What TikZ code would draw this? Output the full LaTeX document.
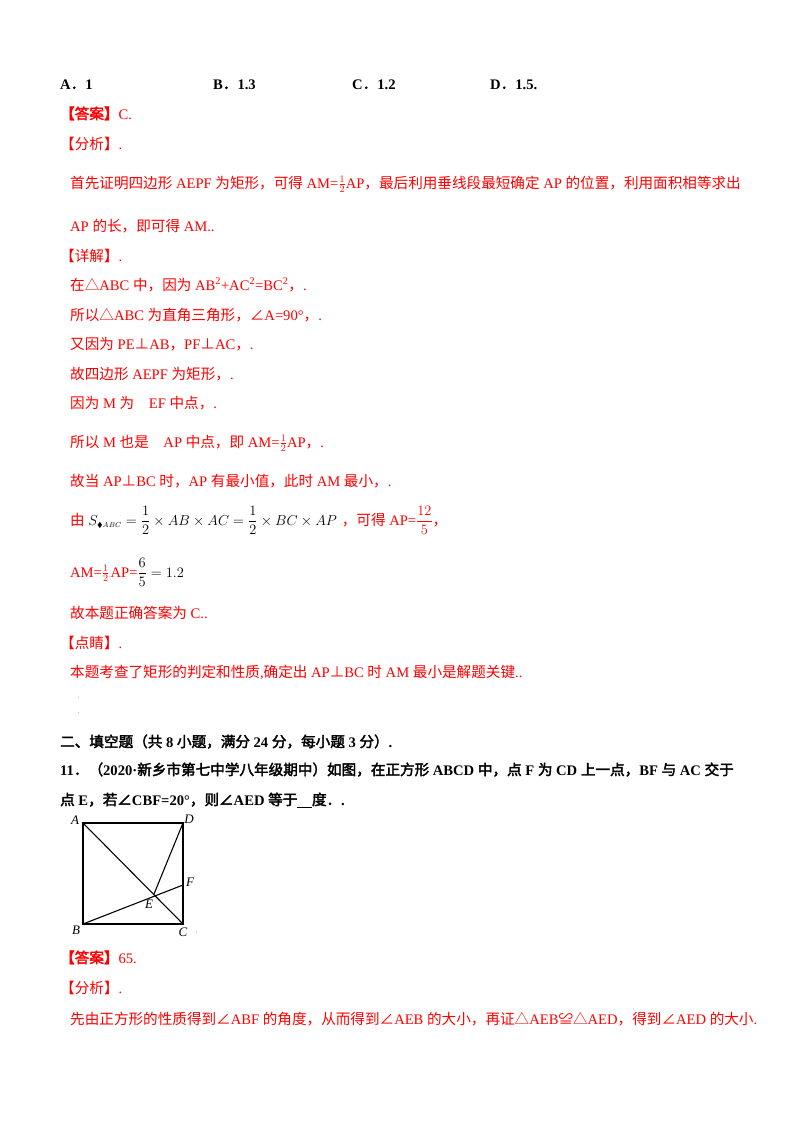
\documentclass[tikz,border=0pt]{standalone}
\usepackage{amsmath,amssymb}
\usepackage{fontspec}
\setmainfont{Liberation Serif}
\newfontfamily\cjk{Noto Sans CJK SC}[AutoFakeBold=2.5]
\XeTeXinterchartokenstate=1
\newXeTeXintercharclass\cjkcls
\count255="4E00 \loop \XeTeXcharclass\count255=\cjkcls \ifnum\count255<"9FFF \advance\count255 1 \repeat
\count255="3000 \loop \XeTeXcharclass\count255=\cjkcls \ifnum\count255<"303F \advance\count255 1 \repeat
\count255="FF01 \loop \XeTeXcharclass\count255=\cjkcls \ifnum\count255<"FF5E \advance\count255 1 \repeat
\XeTeXcharclass"25B3=\cjkcls \XeTeXcharclass"2220=\cjkcls \XeTeXcharclass"22A5=\cjkcls \XeTeXcharclass"224C=\cjkcls
\XeTeXinterchartoks 0 \cjkcls = {\bgroup\cjk}
\XeTeXinterchartoks 4095 \cjkcls = {\bgroup\cjk}
\XeTeXinterchartoks \cjkcls 0 = {\egroup}
\XeTeXinterchartoks \cjkcls 4095 = {\egroup}
\definecolor{rd}{RGB}{255,0,0}
\newcommand\sfr[2]{\ensuremath{\genfrac{}{}{0.5pt}{}{\scriptstyle #1}{\scriptstyle #2}}}
\begin{document}
\begin{tikzpicture}[x=1pt,y=-1pt,
  t/.style={anchor=base west,inner sep=0pt,font=\fontsize{14.6}{17}\selectfont},
  r/.style={t,text=rd},
  b/.style={t,font=\fontsize{14.6}{17}\selectfont\bfseries},
  lbl/.style={inner sep=0pt,font=\fontsize{13}{15}\selectfont\itshape},
  seg/.style={line width=1.1pt}]
\useasboundingbox (0,0) rectangle (800,1132);
\fill[white] (0,0) rectangle (800,1132);
\node[b] (a1) at (60,89) {A．1};
\node[b] (a2) at (213,89) {B．1.3};
\node[b] (a3) at (352,89) {C．1.2};
\node[b] (a4) at (490,89) {D．1.5.};
\node[r] (l1) at (60,119) {\textbf{【答案】}C.};
\node[r] (l2) at (60,149) {【分析】.};
\node[r] (l3) at (70,188) {首先证明四边形 AEPF 为矩形，可得 AM=\sfr{1}{2}AP，最后利用垂线段最短确定 AP 的位置，利用面积相等求出};
\node[r] (l4) at (70,231) {AP 的长，即可得 AM..};
\node[r] (l5) at (60,261) {【详解】.};
\node[r] (l6) at (70,290) {在△ABC 中，因为 AB\textsuperscript{2}+AC\textsuperscript{2}=BC\textsuperscript{2}，.};
\node[r] (l7) at (70,320) {所以△ABC 为直角三角形，∠A=90°，.};
\node[r] (l8) at (70,349) {又因为 PE⊥AB，PF⊥AC，.};
\node[r] (l9) at (70,379) {故四边形 AEPF 为矩形，.};
\node[r] (l10) at (70,408) {因为 M 为\quad EF 中点，.};
\node[r] (l11) at (70,447) {所以 M 也是\quad AP 中点，即 AM=\sfr{1}{2}AP，.};
\node[r] (l12) at (70,486) {故当 AP⊥BC 时，AP 有最小值，此时 AM 最小，.};
\node[r] (l13) at (70,525) {由 \textcolor{black}{$S_{\scriptscriptstyle\blacklozenge ABC}=\dfrac{1}{2}\times AB\times AC=\dfrac{1}{2}\times BC\times AP$}\ \textcolor{black}{\tiny.}，可得 AP=$\dfrac{12}{5}$，};
\node[r] (l14) at (70,577) {AM=\sfr{1}{2}\textcolor{black}{\tiny.}AP=\textcolor{black}{$\dfrac{6}{5}=1.2$}};
\node[r] (l15) at (70,618) {故本题正确答案为 C..};
\node[r] (l16) at (60,648) {【点睛】.};
\node[r] (l17) at (70,677) {本题考查了矩形的判定和性质,确定出 AP⊥BC 时 AM 最小是解题关键..};
\node[t] (d1) at (78,698) {\tiny.};
\node[t] (d2) at (78,713) {\tiny.};
\node[b] (h1) at (60,747) {二、填空题（共 8 小题，满分 24 分，每小题 3 分）.};
\node[b] (q1) at (60,775) {11．（2020·新乡市第七中学八年级期中）如图，在正方形 ABCD 中，点 F 为 CD 上一点，BF 与 AC 交于};
\node[b] (q2) at (60,805) {点 E，若∠CBF=20°，则∠AED 等于\underline{\ \ \ \ }度．.};
% figure
\coordinate (A) at (83,823);
\coordinate (D) at (183,823);
\coordinate (B) at (83,924);
\coordinate (C) at (183,924);
\coordinate (F) at (183,885);
\coordinate (E) at (154,894);
\draw[seg] (A) -- (D) -- (C) -- (B) -- cycle;
\draw[seg] (A) -- (C);
\draw[seg] (B) -- (F);
\draw[seg] (D) -- (E);
\node[lbl] (lA) at (75,820) {A};
\node[lbl] (lD) at (189,819) {D};
\node[lbl] (lB) at (76,930) {B};
\node[lbl] (lC) at (183,932) {C};
\node[lbl] (lE) at (149,904) {E};
\node[lbl] (lF) at (190,882) {F};
\node[t] (dot) at (196,933) {\tiny.};
\node[r] (m1) at (60,963) {\textbf{【答案】}65.};
\node[r] (m2) at (60,993) {【分析】.};
\node[r] (m3) at (70,1024) {先由正方形的性质得到∠ABF 的角度，从而得到∠AEB 的大小，再证△AEB≌△AED，得到∠AED 的大小.};
\end{tikzpicture}
\end{document}
